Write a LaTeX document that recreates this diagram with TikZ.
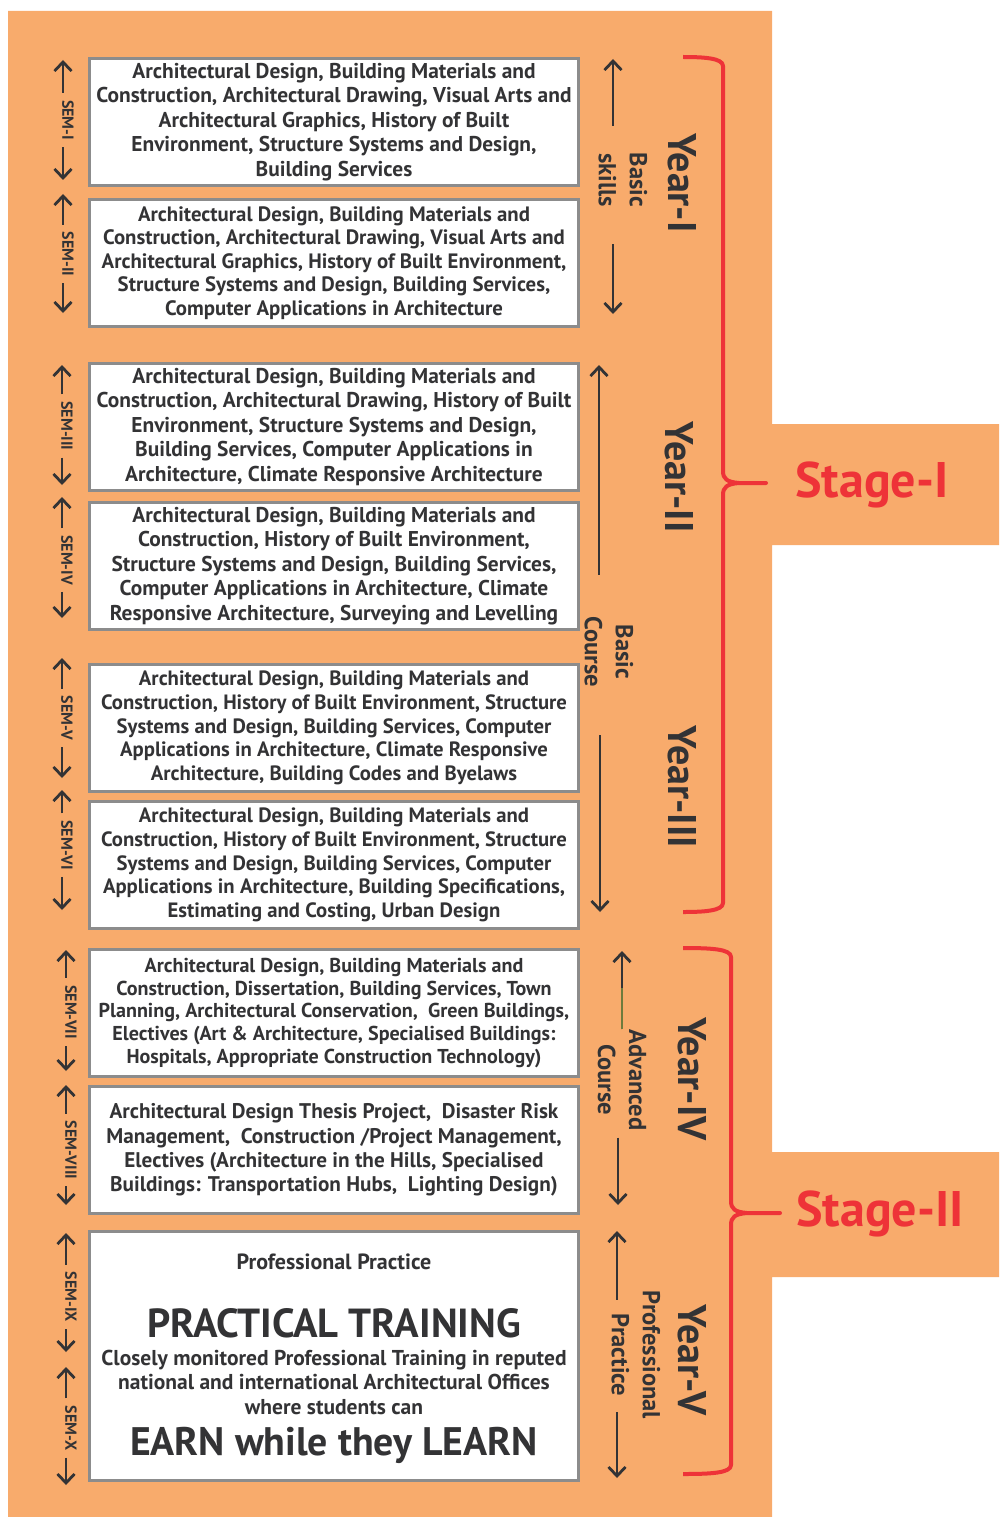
\documentclass[tikz,border=0pt]{standalone}
\usepackage{fontspec}
\setmainfont{PT Sans}
\usetikzlibrary{arrows.meta}
\definecolor{Cor}{HTML}{F8AB6C}
\definecolor{Cred}{HTML}{EE3338}
\definecolor{Cdk}{HTML}{333335}
\definecolor{Cgy}{HTML}{8C8C8C}
\definecolor{Col}{HTML}{6E7B3C}
\begin{document}
\begin{tikzpicture}[x=1pt,y=-1pt]
\tikzstyle{bx} = [draw=Cgy,line width=3pt,fill=white,text=Cdk,align=center,inner sep=0pt,minimum width=489pt,minimum height=127pt,font=\bfseries\fontsize{21.4}{24.5}\selectfont]
\tikzstyle{tx} = [text=Cdk,align=center,inner sep=0pt,font=\bfseries\fontsize{21.5}{24.5}\selectfont]
\tikzstyle{sl} = [rotate=-90,text=Cdk,inner xsep=7pt,inner ysep=0pt,font=\bfseries\fontsize{16}{16}\selectfont]
\tikzstyle{rl} = [rotate=-90,text=Cdk,align=center,inner sep=0pt,font=\bfseries\fontsize{24.5}{31}\selectfont]
\tikzstyle{yr} = [rotate=-90,text=Cdk,inner sep=0pt,font=\bfseries\fontsize{40}{40}\selectfont]
\tikzstyle{st} = [text=Cred,inner sep=0pt,font=\bfseries\fontsize{50}{50}\selectfont]
\tikzstyle{a} = [Cdk,line width=2.8pt,->,>={Straight Barb[length=9pt,width=17pt]}]
\tikzstyle{br} = [Cred,line width=4pt,line join=round]
\def\sem#1#2#3#4#5#6{\node[sl] (#1) at (#2+5,#4) {#3};
\coordinate (#1t) at (#2,#5); \coordinate (#1b) at (#2,#6);
\path[a] (#1.west -| #1t) edge (#1t) (#1.east -| #1b) edge (#1b);}
\def\brc#1#2#3#4#5{\draw[br] (683,#2) .. controls (#1-20,#2) and (#1,#2+1) .. (#1,#2+9) -- (#1,#3-12) .. controls (#1,#3-4) and (#1+4,#3-1) .. (#1+16,#3) -- (#5,#3) -- (#1+16,#3) .. controls (#1+4,#3+1) and (#1,#3+4) .. (#1,#3+12) -- (#1,#4-9) .. controls (#1,#4-1) and (#1-20,#4) .. (683,#4);}
\useasboundingbox (0,0) rectangle (999,1517);
\fill[Cor] (8,11) rectangle (772,1517) (772,424) rectangle (999,545) (772,1152) rectangle (999,1277);
\node[bx] (b1) at (334,122) {Architectural Design, Building Materials and\\Construction, Architectural Drawing, Visual Arts and\\Architectural Graphics, History of Built\\Environment, Structure Systems and Design,\\Building Services};
\node[bx,font=\bfseries\fontsize{20.8}{23.5}\selectfont] (b2) at (334,263) {Architectural Design, Building Materials and\\Construction, Architectural Drawing, Visual Arts and\\Architectural Graphics, History of Built Environment,\\Structure Systems and Design, Building Services,\\Computer Applications in Architecture};
\node[bx] (b3) at (334,427) {Architectural Design, Building Materials and\\Construction, Architectural Drawing, History of Built\\Environment, Structure Systems and Design,\\Building Services, Computer Applications in\\Architecture, Climate Responsive Architecture};
\node[bx] (b4) at (334,566) {Architectural Design, Building Materials and\\Construction, History of Built Environment,\\Structure Systems and Design, Building Services,\\Computer Applications in Architecture, Climate\\Responsive Architecture, Surveying and Levelling};
\node[bx,font=\bfseries\fontsize{20.7}{23.8}\selectfont] (b5) at (334,728) {Architectural Design, Building Materials and\\Construction, History of Built Environment, Structure\\Systems and Design, Building Services, Computer\\Applications in Architecture, Climate Responsive\\Architecture, Building Codes and Byelaws};
\node[bx,font=\bfseries\fontsize{20.7}{23.8}\selectfont] (b6) at (334,865) {Architectural Design, Building Materials and\\Construction, History of Built Environment, Structure\\Systems and Design, Building Services, Computer\\Applications in Architecture, Building Specifications,\\Estimating and Costing, Urban Design};
\node[bx,font=\bfseries\fontsize{20.1}{22.8}\selectfont] (b7) at (334,1013) {Architectural Design, Building Materials and\\Construction, Dissertation, Building Services, Town\\Planning, Architectural Conservation,~ Green Buildings,\\Electives (Art \& Architecture, Specialised Buildings:\\Hospitals, Appropriate Construction Technology)};
\node[bx,font=\bfseries\fontsize{21.2}{24.3}\selectfont] (b8) at (334,1150) {Architectural Design Thesis Project,~ Disaster Risk\\Management,~ Construction /Project Management,\\Electives (Architecture in the Hills, Specialised\\Buildings: Transportation Hubs,~ Lighting Design)};
\node[bx,minimum height=249pt] (b9) at (334,1356) {};
\node[tx,font=\bfseries\fontsize{22}{24}\selectfont] (pr) at (334,1262) {Professional Practice};
\node[tx,font=\bfseries\fontsize{40.6}{42}\selectfont] (pt) at (334,1323) {PRACTICAL TRAINING};
\node[tx] (cm) at (334,1382) {Closely monitored Professional Training in reputed\\national and international Architectural Offices\\where students can};
\node[tx,font=\bfseries\fontsize{39.8}{42}\selectfont] (el) at (334,1445) {EARN while they LEARN};
\sem{s1}{63}{SEM-I}{120}{60}{180}
\sem{s2}{63}{SEM-II}{254}{194}{313}
\sem{s3}{62}{SEM-III}{426}{365}{485}
\sem{s4}{62}{SEM-IV}{560}{497}{618}
\sem{s5}{62}{SEM-V}{718}{658}{778}
\sem{s6}{62}{SEM-VI}{845}{790}{910}
\sem{s7}{66}{SEM-VII}{1012}{950}{1071}
\sem{s8}{66}{SEM-VIII}{1150}{1085}{1205}
\sem{s9}{66}{SEM-IX}{1297}{1233}{1352}
\sem{s10}{66}{SEM-X}{1428}{1367}{1485}
\node[rl] (bs) at (623,180) {Basic\\skills};
\node[rl] (bc) at (609,652) {Basic\\Course};
\node[rl] (ac) at (622,1080) {Advanced\\Course};
\node[rl] (pp) at (636,1355) {Professional\\Practice};
\coordinate (bsT) at (613,59); \coordinate (bsB) at (613,314);
\coordinate (bcT) at (599,365); \coordinate (bcB) at (600,912);
\coordinate (acT) at (622,951); \coordinate (acM) at (622,988); \coordinate (acB) at (618,1205);
\coordinate (ppT) at (617,1231); \coordinate (ppB) at (617,1478);
\path[a]
(bs.west -| bsT) edge[shorten <=27pt] (bsT)
(bs.east -| bsB) edge[shorten <=37pt] (bsB)
(bc.west -| bcT) edge[shorten <=42pt] (bcT)
(bc.east -| bcB) edge[shorten <=48pt] (bcB)
(ac.west -| acT) edge (acT)
(ac.east -| acB) edge[shorten <=7pt] (acB)
(pp.west -| ppT) edge[shorten <=-9pt] (ppT)
(pp.east -| ppB) edge[shorten <=-7pt] (ppB);
\draw[Col,line width=2.8pt] (ac.west -| acT) -- (acM);
\node[yr] (y1) at (682,183) {Year-I};
\node[yr] (y2) at (679,477) {Year-II};
\node[yr] (y3) at (682,787) {Year-III};
\node[yr] (y4) at (692,1079) {Year-IV};
\node[yr] (y5) at (692,1360) {Year-V};
\brc{723}{57}{483}{912}{766}
\brc{731}{948}{1213}{1474}{780}
\node[st] (g1) at (872,485) {Stage-I};
\node[st] (g2) at (880,1214) {Stage-II};
\end{tikzpicture}
\end{document}
